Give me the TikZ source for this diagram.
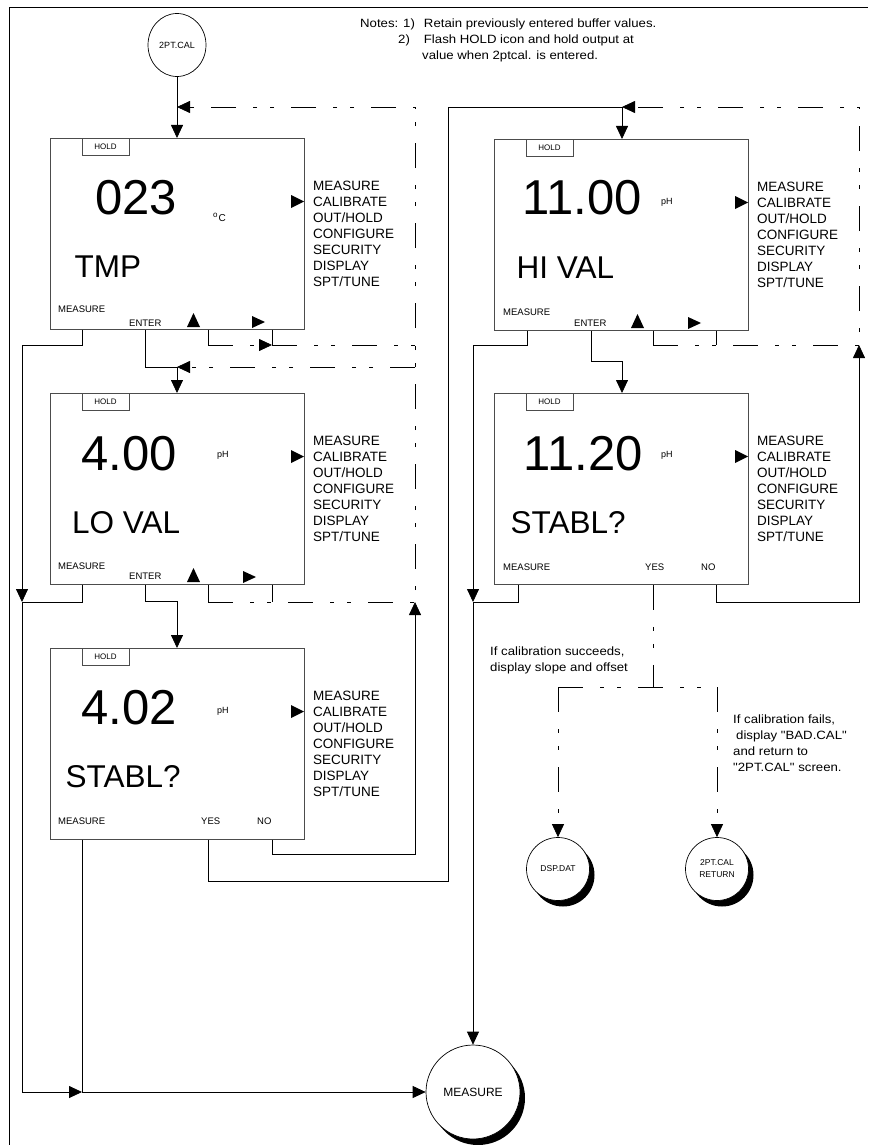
\documentclass[tikz,border=0pt]{standalone}
\usepackage{fontspec}
\setmainfont{Liberation Sans}
\newfontfamily\widesans[FakeStretch=1.1]{Liberation Sans}
\usetikzlibrary{arrows.meta,shadows,calc,shapes.geometric}
\newcommand\fsz[2]{\fontsize{#1}{#2}\selectfont}
\newcommand\screenbox[3]{%
  \node[screen] (#1) at (#2,#3) {};
  \begin{scope}[shift={(#2,#3)}]
    \node[holdtab] (#1hold) at (55.5,8.5) {HOLD};
    \foreach \t [count=\i from 0] in {MEASURE,CALIBRATE,OUT/HOLD,CONFIGURE,SECURITY,DISPLAY,SPT/TUNE}
      \node[menu] (#1menu\i) at (263,{52+16*\i}) {\t};
    \fill (241,57) -- (254,63.5) -- (241,70) -- cycle;
  \end{scope}}
\newcommand\keytri[3]{%
  \begin{scope}[shift={(#1,#2)}]
    \fill (137,189) -- (143.5,175) -- (150,189) -- cycle;
    \fill (#3,178) -- ({#3+13},184) -- (#3,190) -- cycle;
  \end{scope}}
\begin{document}
\begin{tikzpicture}[x=1pt,y=-1pt,
  ln/.style={line width=0.8pt},
  boxln/.style={line width=0.9pt, draw=black!70},
  arr/.style={-{Triangle[length=13pt,width=12pt]}},
  dd/.style={line width=0.8pt, dash pattern=on 25pt off 17pt on 4pt off 13pt on 4pt off 17pt},
  screen/.style={boxln, rectangle, minimum width=254pt, minimum height=191pt, anchor=north west, inner sep=0pt},
  holdtab/.style={boxln, rectangle, minimum width=47pt, minimum height=17pt, inner sep=0pt, font=\fsz{8}{8}},
  menu/.style={anchor=base west, inner sep=0pt, font=\fsz{13.5}{16}},
  big/.style={anchor=base west, inner sep=0pt, font=\fsz{49}{49}},
  word/.style={anchor=base west, inner sep=0pt, font=\fsz{31.5}{31.5}},
  small/.style={anchor=base west, inner sep=0pt, font=\fsz{9.5}{10}},
  unit/.style={anchor=base west, inner sep=0pt, font=\fsz{9}{9}},
  note/.style={anchor=base west, inner sep=0pt, font=\widesans\fsz{12}{14}},
  term/.style={circle, draw, line width=0.7pt, fill=white, inner sep=0pt},
  shd/.style={drop shadow={shadow xshift=5pt, shadow yshift=-6pt, fill=black, opacity=1}},
]
\useasboundingbox (0,0) rectangle (868,1145);
% frame
\draw[line width=0.8pt] (9,1145) -- (9,7) -- (868,7);

% notes
\node[note] (n1) at (360,28) {Notes: 1)\hspace{9pt}Retain previously entered buffer values.};
\node[note] (n2) at (398,44) {2)\hspace{14pt}Flash HOLD icon and hold output at};
\node[note] (n3) at (422,59.5) {value when 2ptcal. is entered.};

% terminals
\node[ellipse, draw, line width=0.7pt, minimum width=58pt, minimum height=63pt, inner sep=0pt, font=\fsz{9}{9}] (start) at (177,45) {2PT.CAL};
\node[term, shd, minimum size=94pt, font=\fsz{12}{12}] (meas) at (473,1092) {MEASURE};
\node[term, shd, minimum size=63pt, font=\fsz{8.5}{8.5}] (dsp) at (558,869) {DSP.DAT};
\node[term, shd, minimum size=63pt, font=\fsz{8.5}{12}, align=center] (ret) at (717,869) {2PT.CAL\\RETURN};

% screens
\screenbox{b1}{50}{138}
\screenbox{b2}{50}{393}
\screenbox{b3}{50}{648}
\screenbox{b4}{494}{139}
\screenbox{b5}{494}{393}
\keytri{50}{138}{202}
\keytri{50}{393}{193}
\keytri{494}{139}{194}

\begin{scope}[shift={(50,138)}]
  \node[big] (b1val) at (45,76) {023};
  \node[unit] (b1unit) at (163,83) {\fsz{8}{8}\raisebox{3.5pt}{o}\hspace{1pt}\fsz{10}{10}C};
  \node[word] (b1word) at (24.5,139) {TMP};
  \node[small] (b1lm) at (8,174) {MEASURE};
  \node[small] (b1le) at (79,188) {ENTER};
\end{scope}
\begin{scope}[shift={(50,393)}]
  \node[big] (b2val) at (31,77) {4.00};
  \node[unit] (b2unit) at (167,64) {pH};
  \node[word] (b2word) at (22,140) {LO VAL};
  \node[small] (b2lm) at (8,176) {MEASURE};
  \node[small] (b2le) at (79,186) {ENTER};
\end{scope}
\begin{scope}[shift={(50,648)}]
  \node[big] (b3val) at (31,76) {4.02};
  \node[unit] (b3unit) at (167,65) {pH};
  \node[word] (b3word) at (15.5,139) {STABL?};
  \node[small] (b3lm) at (8,176) {MEASURE};
  \node[small] (b3ly) at (151,176) {YES};
  \node[small] (b3ln) at (207,176) {NO};
\end{scope}
\begin{scope}[shift={(494,139)}]
  \node[big] (b4val) at (28.5,75) {11.00};
  \node[unit] (b4unit) at (167,65) {pH};
  \node[word] (b4word) at (22.5,139) {HI VAL};
  \node[small] (b4lm) at (9,176) {MEASURE};
  \node[small] (b4le) at (80,187) {ENTER};
\end{scope}
\begin{scope}[shift={(494,393)}]
  \node[big] (b5val) at (29.5,77) {11.20};
  \node[unit] (b5unit) at (167,64) {pH};
  \node[word] (b5word) at (16.5,140) {STABL?};
  \node[small] (b5lm) at (9,177) {MEASURE};
  \node[small] (b5ly) at (151,177) {YES};
  \node[small] (b5ln) at (207,177) {NO};
\end{scope}

% instruction texts
\node[note] (s1) at (490,655) {If calibration succeeds,};
\node[note] (s2) at (490,671) {display slope and offset};
\node[note] (f1) at (733,723) {If calibration fails,};
\node[note] (f2) at (733,739) {\hspace{3pt}display "BAD.CAL"};
\node[note] (f3) at (733,755) {and return to};
\node[note] (f4) at (733,771) {"2PT.CAL" screen.};

% connection points
\foreach \b in {b1,b2,b3} {
  \coordinate (\b in) at ($(\b.north west)+(127,0)$);
  \coordinate (\b m) at ($(\b.south west)+(32,0)$);
  \coordinate (\b e) at ($(\b.south west)+(95,0)$);
  \coordinate (\b k1) at ($(\b.south west)+(158,0)$);
  \coordinate (\b k2) at ($(\b.south west)+(222,0)$);
}
\coordinate (b4in) at ($(b4.north west)+(128,0)$);
\coordinate (b4m) at ($(b4.south west)+(33,0)$);
\coordinate (b4e) at ($(b4.south west)+(97,0)$);
\coordinate (b4k1) at ($(b4.south west)+(159,0)$);
\coordinate (b4k2) at ($(b4.south west)+(222,0)$);
\coordinate (b5in) at ($(b5.north west)+(128,0)$);
\coordinate (b5m) at ($(b5.south west)+(24,0)$);
\coordinate (b5k1) at ($(b5.south west)+(159,0)$);
\coordinate (b5k2) at ($(b5.south west)+(222,0)$);
\coordinate (xL) at (22,0);
\coordinate (xR1) at (415,0);
\coordinate (xM) at (448,0);
\coordinate (xL2) at (473,0);
\coordinate (xR2) at (859,0);
\coordinate (rowA) at (0,345);
\coordinate (rowB) at (0,602);
\coordinate (rowC) at (0,854);
\coordinate (rowD) at (0,881);
\coordinate (rowE) at (0,687);
\coordinate (fb1) at ($(b1in)+(0,-31)$);
\coordinate (fb2) at ($(b2in)+(0,-26)$);
\coordinate (fb3) at ($(b3in)+(0,-47)$);
\coordinate (fb4) at ($(b4in)+(0,-32)$);
\coordinate (fb5) at ($(b5in)+(0,-32)$);

% left column
\draw[ln,arr] (start) -- (b1in);
\draw[ln] (b1k1) -- (b1k1 |- rowA);
\draw[ln] (b1k2) -- (b1k2 |- rowA);
\draw[dd,arr] (b1k1 |- rowA) -- (b1k2 |- rowA);
\draw[dd,arr] (b1k2 |- rowA) -- (rowA -| xR1) -- (fb1 -| xR1) -- (fb1);
\draw[ln,arr] (b1e) |- (fb2) -- (b2in);
\draw[dd,arr] (fb2 -| xR1) -- (fb2);
\draw[ln,arr] (b1m) |- (rowA -| xL) -- (rowB -| xL);
\draw[ln] (b2m) |- (rowB -| xL);
\draw[ln,arr] (rowB -| xL) |- (b3m |- meas);
\draw[ln] (b3m) -- (b3m |- meas);
\draw[ln,arr] (b3m |- meas) -- (meas);
\draw[ln] (b2k1) -- (b2k1 |- rowB);
\draw[ln] (b2k2) -- (b2k2 |- rowB);
\draw[dd] (b2k1 |- rowB) -- (rowB -| xR1) -- (rowA -| xR1);
\draw[ln,arr] (b2e) |- (fb3) -- (b3in);
\draw[ln,arr] (b3k2) |- (rowC -| xR1) -- (rowB -| xR1);
\draw[ln,arr] (b3k1) |- (rowD -| xM) |- (fb4) -- (b4in);

% right column
\draw[ln] (b4k1) -- (b4k1 |- rowA);
\draw[ln] (b4k2) -- (b4k2 |- rowA);
\draw[dd,arr] (b4k1 |- rowA) -- (rowA -| xR2) -- (fb4 -| xR2) -- (fb4);
\draw[ln,arr] (b4e) |- (fb5) -- (b5in);
\draw[ln,arr] (b4m) |- (rowA -| xL2) -- (rowB -| xL2);
\draw[ln] (b5m) |- (rowB -| xL2);
\draw[ln,arr] (rowB -| xL2) -- (meas);
\draw[ln,arr] (b5k2) |- (rowB -| xR2) -- (rowA -| xR2);
\draw[dd] (b5k1) -- (b5k1 |- rowE);
\draw[dd] (rowE -| dsp) -- (rowE -| ret);
\draw[dd,arr] (rowE -| dsp) -- (dsp);
\draw[dd,arr] (rowE -| ret) -- (ret);
\end{tikzpicture}
\end{document}
